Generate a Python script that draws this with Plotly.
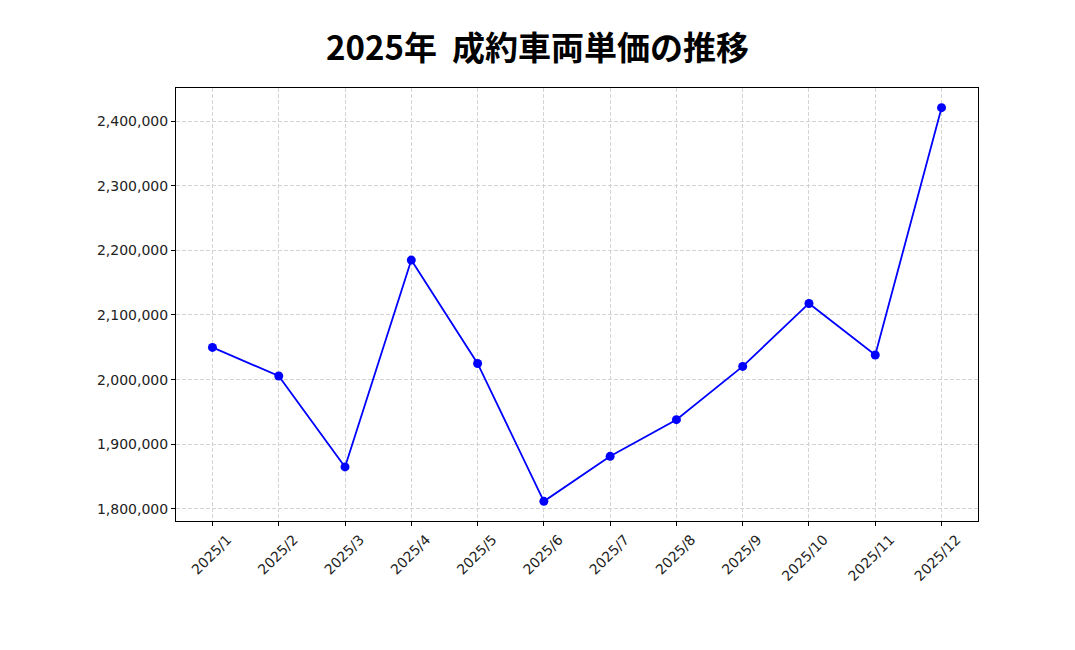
import plotly.graph_objects as go

months = ["2025/1", "2025/2", "2025/3", "2025/4", "2025/5", "2025/6",
          "2025/7", "2025/8", "2025/9", "2025/10", "2025/11", "2025/12"]
unit_price = [2049800, 2005600, 1864900, 2184900, 2025000, 1811700,
              1881300, 1938000, 2020400, 2117800, 2038000, 2420700]
y_ticks = [1800000, 1900000, 2000000, 2100000, 2200000, 2300000, 2400000]
y_tick_labels = [f"{v:,}" for v in y_ticks]
title_text = "2025年  成約車両単価の推移"

xs = list(range(len(months)))

fig = go.Figure()
fig.add_trace(go.Scatter(
    x=xs, y=unit_price, mode="lines+markers",
    line=dict(color="#0000ff", width=1.8),
    marker=dict(color="#0000ff", size=9),
    showlegend=False,
))

lo, hi = min(unit_price), max(unit_price)
pad = (hi - lo) * 0.05

fig.update_layout(
    width=1075, height=650,
    margin=dict(l=168, r=105, t=80, b=137),
    paper_bgcolor="white", plot_bgcolor="white",
    title=dict(text=title_text, x=0.5 - 8 / 1075, xanchor="center", y=1 - 40 / 650, yanchor="middle",
               font=dict(family="Noto Sans CJK JP", size=33, color="black", weight="bold")),
    font=dict(family="DejaVu Sans", size=14, color="#222222"),
)
fig.update_xaxes(
    range=[-0.55, len(months) - 0.45],
    tickmode="array", tickvals=xs, ticktext=months,
    tickangle=-45, ticklabelshift=15,
    showgrid=True, gridcolor="#d3d3d3", griddash="4px,2px", gridwidth=1,
    showline=True, linecolor="black", linewidth=1, mirror=True,
    ticks="outside", ticklen=4, tickcolor="black",
    zeroline=False,
)
fig.update_yaxes(
    range=[lo - pad, hi + pad],
    tickmode="array", tickvals=y_ticks, ticktext=y_tick_labels,
    showgrid=True, gridcolor="#d3d3d3", griddash="4px,2px", gridwidth=1,
    showline=True, linecolor="black", linewidth=1, mirror=True,
    ticks="outside", ticklen=4, tickcolor="black",
    zeroline=False,
)

fig.write_html("out.html")
